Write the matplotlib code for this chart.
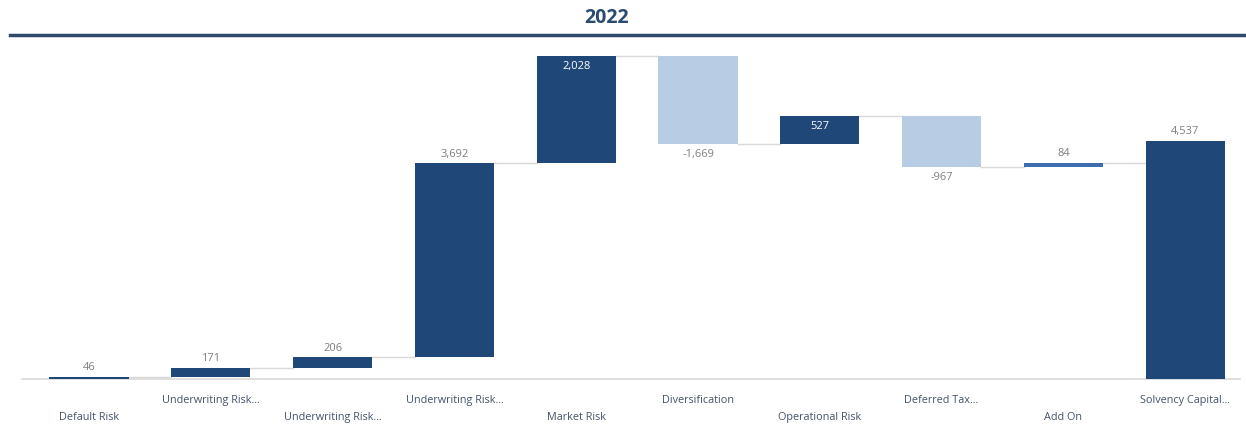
import numpy as np
import matplotlib
matplotlib.use("Agg")
import matplotlib.pyplot as plt
from matplotlib.lines import Line2D
import matplotlib.transforms as mtransforms

# waterfall data
categories = ["Default Risk", "Underwriting Risk...", "Underwriting Risk...",
              "Underwriting Risk...", "Market Risk", "Diversification",
              "Operational Risk", "Deferred Tax...", "Add On", "Solvency Capital..."]
values = [46, 171, 206, 3692, 2028, -1669, 527, -967, 84, 4537]
is_total = [False] * 9 + [True]
label_inside = [False, False, False, False, True, False, True, False, False, False]

DARK = "#1F4778"
LIGHT = "#B8CCE4"
ADDON = "#3D6DAE"
LABEL_GREY = "#7F7F7F"
CAT_COLOR = "#44546A"

plt.rcParams["font.family"] = ["Open Sans", "DejaVu Sans"]

fig = plt.figure(figsize=(12.46, 4.27), dpi=100)
ax = fig.add_axes([22 / 1246, 47 / 427, 1218 / 1246, 331 / 427])

x = np.arange(len(values))
width = 0.65
bottoms, heights, colors = [], [], []
running = 0
for i, v in enumerate(values):
    if is_total[i]:
        bottoms.append(0)
        heights.append(v)
        colors.append(DARK)
    else:
        bottoms.append(running if v >= 0 else running + v)
        heights.append(abs(v))
        colors.append(LIGHT if v < 0 else (ADDON if categories[i] == "Add On" else DARK))
        running += v

ax.bar(x, heights, width=width, bottom=bottoms, color=colors, zorder=3)

# connector lines between bars
levels = np.cumsum(values[:-1])
for i in range(len(values) - 1):
    ax.plot([x[i] + width / 2, x[i + 1] - width / 2], [levels[i], levels[i]],
            color="#D9D9D9", lw=1, zorder=2)

# value labels
for i, v in enumerate(values):
    top = bottoms[i] + heights[i]
    txt = f"{v:,}"
    if label_inside[i]:
        ax.annotate(txt, (x[i], top), xytext=(0, -3), textcoords="offset points",
                    ha="center", va="top", fontsize=8, color="white", zorder=4)
    elif v < 0:
        ax.annotate(txt, (x[i], bottoms[i]), xytext=(0, -3), textcoords="offset points",
                    ha="center", va="top", fontsize=8, color=LABEL_GREY, zorder=4)
    else:
        ax.annotate(txt, (x[i], top), xytext=(0, 3), textcoords="offset points",
                    ha="center", va="bottom", fontsize=8, color=LABEL_GREY, zorder=4)

ax.set_xlim(-0.55, len(values) - 0.55)
ax.set_ylim(0, 6300)
ax.axhline(0, color="#D9D9D9", lw=1.2, zorder=1, clip_on=False)
ax.set_xticks([])
ax.set_yticks([])
for s in ax.spines.values():
    s.set_visible(False)

# staggered category labels
trans = mtransforms.blended_transform_factory(ax.transData, fig.transFigure)
for i, c in enumerate(categories):
    yy = 1 - 418 / 427 if i % 2 == 0 else 1 - 401 / 427
    ax.text(x[i], yy, c, transform=trans, ha="center", va="center",
            fontsize=7.8, color=CAT_COLOR)

# title and rule
fig.text(0.487, 1 - 18 / 427, "2022", ha="center", va="center", fontsize=14,
         fontweight="bold", color="#2A4A70")
fig.add_artist(Line2D([10 / 1246, 1.0], [1 - 36 / 427, 1 - 36 / 427],
                      transform=fig.transFigure, color="#2F4B6C", lw=2.5))

fig.savefig("out.png", dpi=100, facecolor="white")
